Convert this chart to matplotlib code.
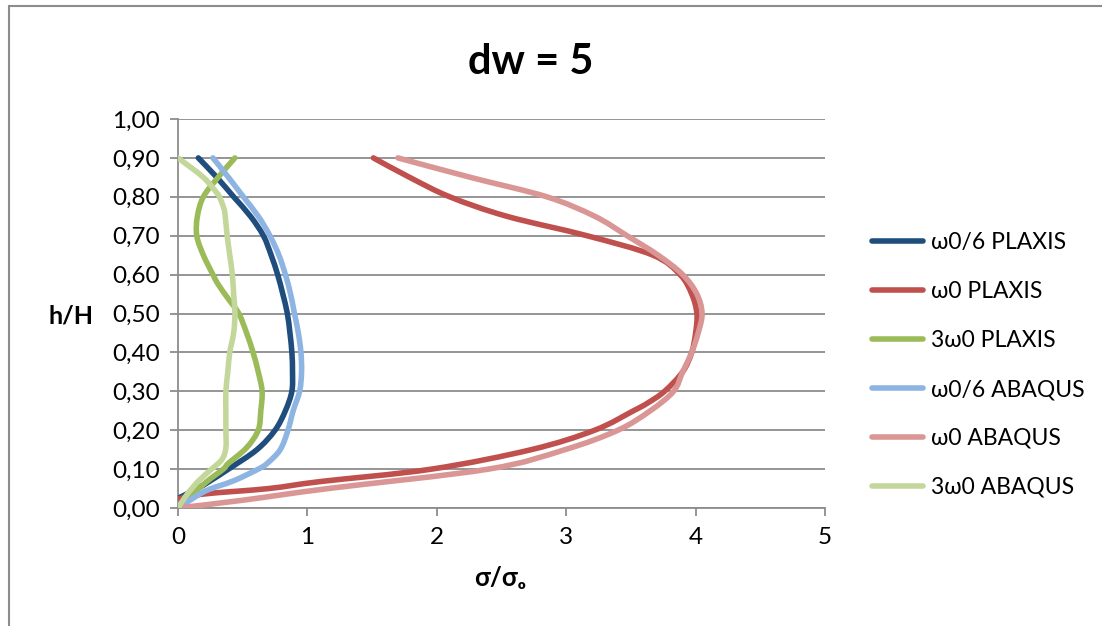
import matplotlib
matplotlib.use("Agg")
import matplotlib.pyplot as plt
from matplotlib.patches import Rectangle, PathPatch
from matplotlib.path import Path
from matplotlib.lines import Line2D

plt.rcParams['font.family'] = ['Lato', 'DejaVu Sans']

title = "dw = 5"
xlabel = "σ/σₒ"
ylabel = "h/H"
x_ticks = [0, 1, 2, 3, 4, 5]
x_tick_labels = ["0", "1", "2", "3", "4", "5"]
y_ticks = [0.0, 0.1, 0.2, 0.3, 0.4, 0.5, 0.6, 0.7, 0.8, 0.9, 1.0]
y_tick_labels = ["0,00", "0,10", "0,20", "0,30", "0,40", "0,50", "0,60", "0,70", "0,80", "0,90", "1,00"]

names = ["ω0/6 PLAXIS", "ω0 PLAXIS", "3ω0 PLAXIS", "ω0/6 ABAQUS", "ω0 ABAQUS", "3ω0 ABAQUS"]
colors = ["#1F4E7E", "#C0504D", "#9BBB59", "#8DB4E2", "#DA9694", "#C4D79B"]

w6_plaxis_h = [0.025, 0.05, 0.07, 0.10, 0.15, 0.20, 0.25, 0.30, 0.35, 0.40, 0.45, 0.50, 0.55, 0.60, 0.65, 0.70, 0.75, 0.80, 0.85, 0.90]
w6_plaxis_s = [0.00, 0.15, 0.25, 0.39, 0.61, 0.75, 0.83, 0.88, 0.885, 0.88, 0.865, 0.845, 0.81, 0.77, 0.72, 0.66, 0.56, 0.43, 0.30, 0.157]

w0_plaxis_h = [0.023, 0.036, 0.05, 0.068, 0.10, 0.15, 0.20, 0.25, 0.27, 0.30, 0.35, 0.40, 0.45, 0.50, 0.55, 0.60, 0.65, 0.70, 0.75, 0.80, 0.85, 0.90]
w0_plaxis_s = [0.00, 0.20, 0.70, 1.10, 1.96, 2.73, 3.22, 3.52, 3.63, 3.76, 3.90, 3.97, 4.00, 4.01, 3.97, 3.88, 3.67, 3.16, 2.54, 2.10, 1.79, 1.51]

w3_plaxis_h = [0.0, 0.035, 0.07, 0.10, 0.115, 0.155, 0.20, 0.25, 0.30, 0.35, 0.40, 0.45, 0.50, 0.537, 0.575, 0.60, 0.65, 0.70, 0.75, 0.80, 0.85, 0.90]
w3_plaxis_s = [0.0, 0.11, 0.23, 0.35, 0.39, 0.53, 0.62, 0.64, 0.65, 0.62, 0.58, 0.53, 0.47, 0.39, 0.31, 0.27, 0.196, 0.145, 0.15, 0.196, 0.31, 0.44]

w6_abaqus_h = [0.0, 0.015, 0.045, 0.07, 0.10, 0.115, 0.15, 0.20, 0.25, 0.30, 0.35, 0.40, 0.45, 0.50, 0.55, 0.60, 0.65, 0.70, 0.75, 0.80, 0.85, 0.90]
w6_abaqus_s = [0.0, 0.07, 0.22, 0.43, 0.62, 0.69, 0.79, 0.85, 0.89, 0.94, 0.955, 0.95, 0.93, 0.90, 0.87, 0.83, 0.78, 0.71, 0.62, 0.505, 0.39, 0.27]

w0_abaqus_h = [0.0, 0.02, 0.05, 0.10, 0.15, 0.20, 0.25, 0.30, 0.35, 0.40, 0.45, 0.50, 0.55, 0.60, 0.65, 0.70, 0.75, 0.80, 0.85, 0.90]
w0_abaqus_s = [0.0, 0.50, 1.16, 2.40, 2.99, 3.40, 3.65, 3.83, 3.90, 3.97, 4.02, 4.05, 4.01, 3.90, 3.71, 3.47, 3.22, 2.85, 2.26, 1.70]

w3_abaqus_h = [0.0, 0.035, 0.07, 0.10, 0.125, 0.155, 0.20, 0.25, 0.30, 0.35, 0.40, 0.45, 0.50, 0.55, 0.60, 0.65, 0.70, 0.75, 0.77, 0.80, 0.81, 0.85, 0.90]
w3_abaqus_s = [0.0, 0.07, 0.16, 0.26, 0.34, 0.37, 0.37, 0.37, 0.37, 0.385, 0.40, 0.43, 0.44, 0.43, 0.42, 0.40, 0.38, 0.365, 0.355, 0.32, 0.30, 0.196, 0.0]

series_s = [w6_plaxis_s, w0_plaxis_s, w3_plaxis_s, w6_abaqus_s, w0_abaqus_s, w3_abaqus_s]
series_h = [w6_plaxis_h, w0_plaxis_h, w3_plaxis_h, w6_abaqus_h, w0_abaqus_h, w3_abaqus_h]


def smooth_path(xs, ys):
    """Excel-style smoothed line: cubic Bezier segments through the data points."""
    pts = list(zip(xs, ys))
    n = len(pts)
    verts = [pts[0]]
    codes = [Path.MOVETO]
    for i in range(n - 1):
        p0 = pts[i - 1] if i > 0 else pts[i]
        p1 = pts[i]
        p2 = pts[i + 1]
        p3 = pts[i + 2] if i + 2 < n else pts[i + 1]
        c1 = (p1[0] + (p2[0] - p0[0]) / 6.0, p1[1] + (p2[1] - p0[1]) / 6.0)
        c2 = (p2[0] - (p3[0] - p1[0]) / 6.0, p2[1] - (p3[1] - p1[1]) / 6.0)
        verts += [c1, c2, p2]
        codes += [Path.CURVE4, Path.CURVE4, Path.CURVE4]
    return Path(verts, codes)


W, H = 1102, 626
fig = plt.figure(figsize=(W / 100, H / 100), dpi=100)
fig.patch.set_facecolor("white")

# chart area border (partly outside the picture)
fig.patches.append(Rectangle((9 / W, -0.02), 1.05, 1 - 6 / H + 0.02, transform=fig.transFigure,
                             fill=False, edgecolor="#8C8C8C", linewidth=1.5))

ax = fig.add_axes([178 / W, 1 - 508 / H, (825 - 178) / W, (508 - 119) / H])

LW = 4.0
handles = []
for s, h, c, n in zip(series_s, series_h, colors, names):
    patch = PathPatch(smooth_path(s, h), facecolor="none", edgecolor=c, linewidth=LW,
                      capstyle="round", joinstyle="round", zorder=3)
    ax.add_patch(patch)
    handles.append(Line2D([], [], color=c, linewidth=LW, solid_capstyle="round", label=n))

ax.set_xlim(0, 5)
ax.set_ylim(0, 1.0)
ax.set_xticks(x_ticks)
ax.set_xticklabels(x_tick_labels)
ax.set_yticks(y_ticks)
ax.set_yticklabels(y_tick_labels)
ax.yaxis.grid(True, color="#8C8C8C", linewidth=1.3)
ax.set_axisbelow(True)
for sp in ["top", "right"]:
    ax.spines[sp].set_visible(False)
for sp in ["left", "bottom"]:
    ax.spines[sp].set_color("#8C8C8C")
    ax.spines[sp].set_linewidth(1.3)
ax.tick_params(axis="both", colors="#8C8C8C", length=6, width=1.3, labelcolor="black", labelsize=17.5)
ax.tick_params(axis="y", pad=7)
ax.tick_params(axis="x", pad=8)

fig.text(500 / W, 1 - 578 / H, xlabel, ha="center", va="center", fontsize=18.5, fontweight="bold")
fig.text(93 / W, 1 - 316 / H, ylabel, ha="right", va="center", fontsize=18, fontweight="bold")

fig.text(531 / W, 1 - 62 / H, title, ha="center", va="center", fontsize=30, fontweight="bold")

leg = ax.legend(handles=handles, loc="upper left", bbox_to_anchor=(863 / W, 1 - 223 / H),
                bbox_transform=fig.transFigure, frameon=False, fontsize=16.5, handlelength=2.2,
                handletextpad=0.35, labelspacing=1.22, borderaxespad=0)

fig.savefig("out.png", dpi=100)
